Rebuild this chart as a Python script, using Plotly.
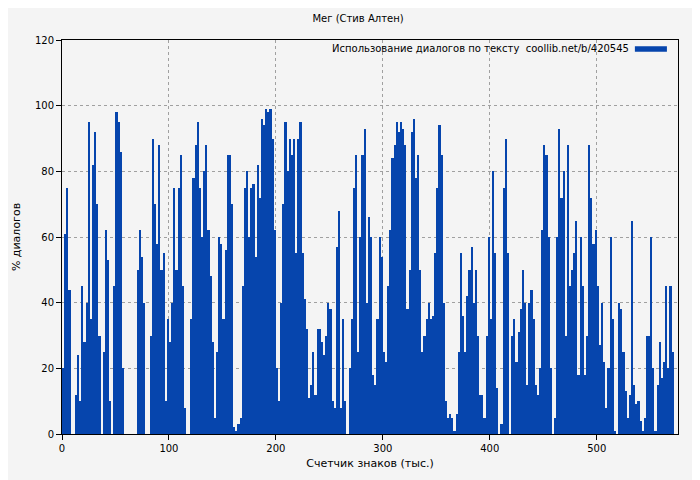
import numpy as np
import plotly.graph_objects as go

# dialogue share (%) per 2k-character bin
dialog_pct = [
    20, 61, 75, 44, 0, 0, 12, 24, 10, 45, 28, 40, 95, 35, 82, 92, 70, 30, 0, 25,
    62, 53, 10, 0, 45, 98, 95, 86, 20, 0, 0, 0, 0, 0, 0, 50, 62, 54, 40, 0,
    0, 30, 90, 70, 58, 88, 50, 55, 10, 35, 28, 40, 75, 50, 75, 85, 45, 8, 0, 0,
    35, 78, 88, 95, 75, 60, 80, 88, 62, 48, 28, 5, 25, 60, 58, 35, 56, 85, 85, 70,
    2, 1, 3, 5, 45, 75, 80, 60, 75, 76, 54, 82, 72, 96, 94, 99, 98, 99, 90, 62,
    20, 10, 40, 70, 95, 80, 90, 85, 90, 55, 90, 95, 55, 41, 32, 11, 15, 25, 12, 32,
    32, 28, 24, 30, 40, 38, 10, 8, 57, 68, 8, 35, 10, 0, 20, 35, 75, 85, 25, 60,
    85, 93, 40, 66, 60, 18, 15, 35, 60, 54, 25, 22, 45, 62, 84, 88, 95, 92, 95, 93,
    88, 38, 50, 92, 96, 78, 85, 50, 25, 30, 35, 40, 35, 36, 55, 75, 94, 85, 40, 10,
    5, 6, 5, 1, 6, 25, 55, 36, 25, 42, 50, 57, 40, 50, 30, 12, 12, 5, 30, 60,
    35, 80, 55, 14, 0, 3, 75, 90, 55, 0, 30, 35, 22, 31, 38, 50, 40, 15, 40, 44,
    35, 15, 12, 20, 62, 88, 85, 60, 20, 0, 5, 60, 93, 72, 80, 30, 88, 45, 50, 55,
    65, 18, 60, 45, 18, 30, 88, 72, 58, 62, 45, 27, 40, 22, 8, 20, 60, 35, 1, 0,
    40, 38, 25, 13, 5, 12, 65, 15, 9, 10, 4, 1, 5, 30, 30, 60, 20, 1, 15, 28,
    17, 22, 45, 20, 45, 25,
]
bin_start = np.arange(len(dialog_pct)) * 2 + 1

TITLE = "Мег (Стив Алтен)"
LEGEND = "Использование диалогов по тексту  coollib.net/b/420545"
BLUE = "#0645ad"
BG = "#f4f4f4"
FONT = "DejaVu Sans"

fig = go.Figure(go.Bar(
    x=bin_start, y=dialog_pct, width=2,
    marker=dict(color=BLUE, line=dict(width=0)),
    showlegend=False,
))

axis = dict(
    showline=True, linecolor="black", linewidth=1, mirror=True,
    ticks="outside", ticklen=5, tickcolor="black",
    showgrid=True, gridcolor="#a0a0a0", griddash="3px,3px", gridwidth=1,
    zeroline=False, tickfont=dict(size=10, color="black"), automargin=False,
)

# page body has an 8px margin, so the plot box is offset by that much
fig.update_layout(
    width=700, height=480,
    paper_bgcolor=BG, plot_bgcolor=BG,
    font=dict(family=FONT, size=10, color="black"),
    margin=dict(l=54, r=30, t=32, b=54, autoexpand=False),
    bargap=0,
    title=dict(text=TITLE, x=0.5, xanchor="center", y=0.979, yanchor="middle",
               font=dict(size=10)),
    xaxis=dict(axis, range=[0, 576], dtick=100,
               title=dict(text="Счетчик знаков (тыс.)", standoff=6,
                          font=dict(size=11))),
    yaxis=dict(axis, range=[0, 120], dtick=20,
               title=dict(text="% диалогов", standoff=12,
                          font=dict(size=11))),
)

fig.add_annotation(text=LEGEND, xref="paper", yref="paper", x=0.924, y=0.978,
                   xanchor="right", yanchor="middle", showarrow=False,
                   font=dict(size=10))
fig.add_shape(type="rect", xref="paper", yref="paper",
              x0=0.93, x1=0.982, y0=0.97, y1=0.984,
              fillcolor=BLUE, line=dict(width=0))

fig.write_html("out.html")
